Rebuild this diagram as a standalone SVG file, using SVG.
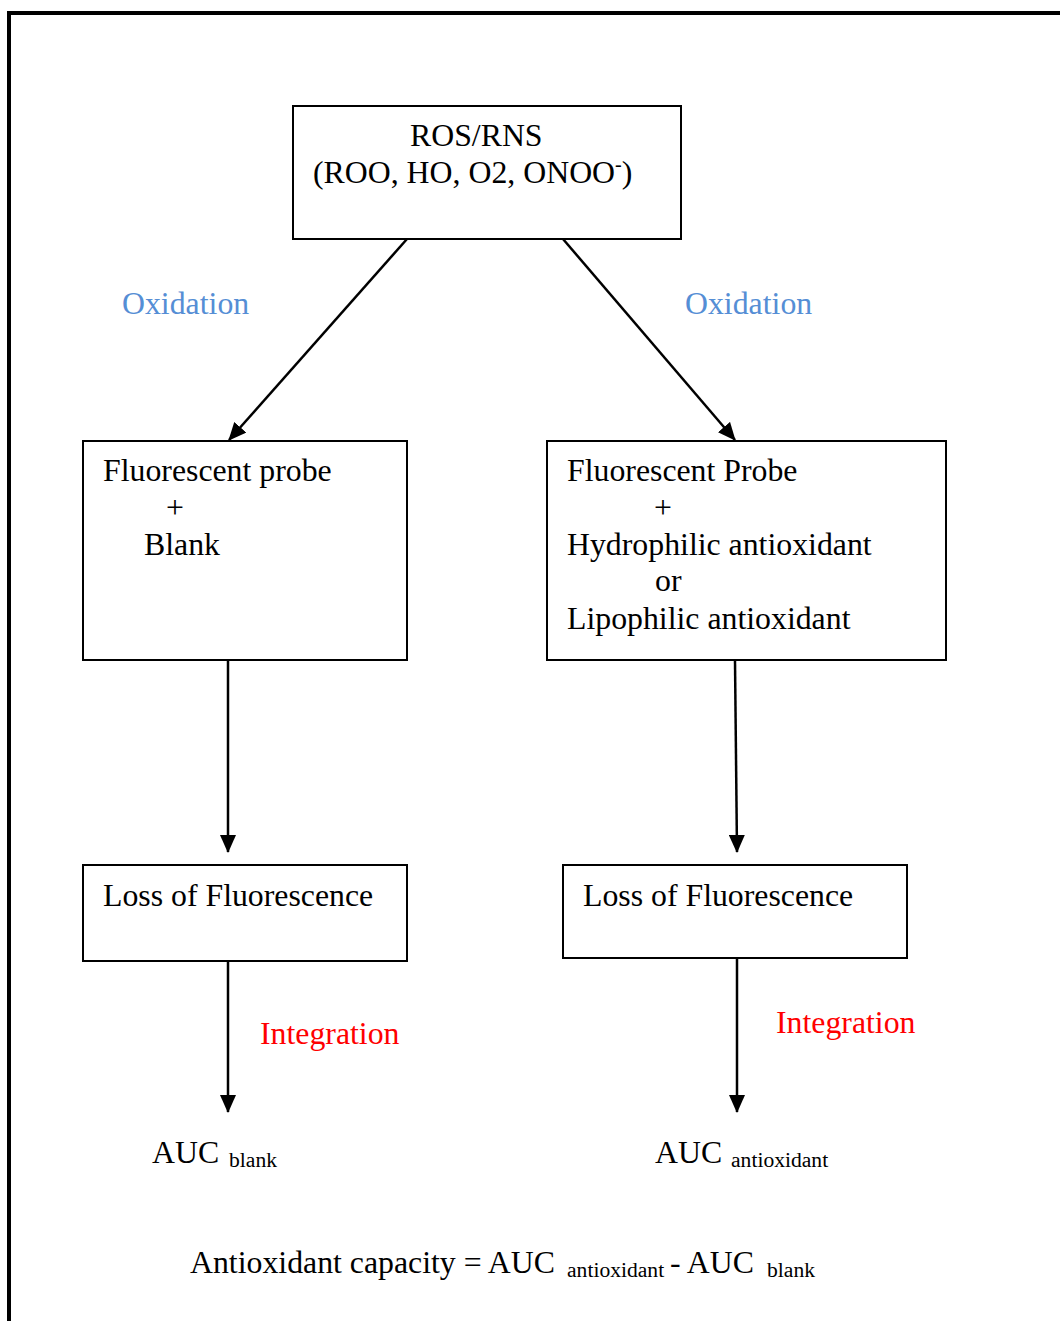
<svg xmlns="http://www.w3.org/2000/svg" width="1060" height="1321" viewBox="0 0 1060 1321">
<style>
.box{fill:#fff;stroke:#000;stroke-width:2}
.t{font-family:"Liberation Serif","Times New Roman",serif;font-size:31.8px;fill:#000}
.s{font-size:21.6px}
.blue{fill:#558ED5}
.red{fill:#FF0000}
.c{stroke:#000;stroke-width:2.5;fill:none;marker-end:url(#ah)}
</style>
<defs>
<marker id="ah" markerUnits="userSpaceOnUse" markerWidth="18" markerHeight="16" refX="17" refY="8" orient="auto">
<path d="M0,0 L18,8 L0,16 Z" fill="#000"/>
</marker>
</defs>
<rect width="1060" height="1321" fill="#fff"/>
<g id="frame">
<path d="M9,1321 V13 H1060" fill="none" stroke="#000" stroke-width="4"/>
</g>
<g id="connectors">
<line class="c" x1="407" y1="239" x2="229" y2="440"/>
<line class="c" x1="563" y1="239" x2="735" y2="440"/>
<line class="c" x1="228" y1="661" x2="228" y2="852"/>
<line class="c" x1="735" y1="661" x2="737" y2="852"/>
<line class="c" x1="228" y1="961" x2="228" y2="1112"/>
<line class="c" x1="737" y1="958" x2="737" y2="1112"/>
<text class="t blue" x="122" y="314">Oxidation</text>
<text class="t blue" x="685" y="314">Oxidation</text>
<text class="t red" x="260" y="1044">Integration</text>
<text class="t red" x="776" y="1033">Integration</text>
</g>
<g id="ros">
<rect class="box" x="293" y="106" width="388" height="133"/>
<text class="t" x="410" y="146">ROS/RNS</text>
<text class="t" x="313" y="183">(ROO, HO, O2, ONOO<tspan font-size="20" dy="-12">-</tspan><tspan dy="12">)</tspan></text>
</g>
<g id="probe-blank">
<rect class="box" x="83" y="441" width="324" height="219"/>
<text class="t" x="103" y="481">Fluorescent probe</text>
<text class="t" x="166" y="518">+</text>
<text class="t" x="144" y="555">Blank</text>
</g>
<g id="probe-antioxidant">
<rect class="box" x="547" y="441" width="399" height="219"/>
<text class="t" x="567" y="481">Fluorescent Probe</text>
<text class="t" x="654" y="518">+</text>
<text class="t" x="567" y="555">Hydrophilic antioxidant</text>
<text class="t" x="655" y="591">or</text>
<text class="t" x="567" y="629">Lipophilic antioxidant</text>
</g>
<g id="loss-left">
<rect class="box" x="83" y="865" width="324" height="96"/>
<text class="t" x="103" y="906">Loss of Fluorescence</text>
</g>
<g id="loss-right">
<rect class="box" x="563" y="865" width="344" height="93"/>
<text class="t" x="583" y="906">Loss of Fluorescence</text>
</g>
<g id="auc-blank">
<text class="t" x="152" y="1163">AUC</text>
<text class="t s" x="229" y="1167">blank</text>
</g>
<g id="auc-antioxidant">
<text class="t" x="655" y="1163">AUC</text>
<text class="t s" x="731" y="1167">antioxidant</text>
</g>
<g id="formula">
<text class="t" x="190" y="1273">Antioxidant capacity = AUC</text>
<text class="t s" x="567" y="1277">antioxidant</text>
<text class="t" x="670" y="1273">- AUC</text>
<text class="t s" x="767" y="1277">blank</text>
</g>
</svg>
